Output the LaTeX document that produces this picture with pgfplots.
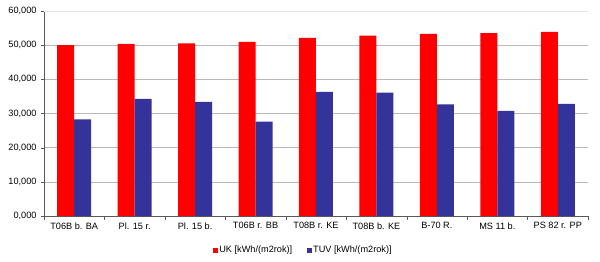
\documentclass[border=0pt]{standalone}
\usepackage{fontspec}
\setmainfont{Liberation Sans}
\usepackage{pgfplots}
\pgfplotsset{compat=1.18}
\definecolor{ukred}{RGB}{255,0,0}
\definecolor{tuvblue}{RGB}{51,51,153}
\begin{document}
\begin{tikzpicture}
\useasboundingbox (-44bp,-46bp) rectangle (556bp,216bp);
\begin{axis}[
  at={(0,0)}, anchor=south west,
  scale only axis,
  width=544bp, height=205bp,
  xmin=-0.5, xmax=8.5,
  ymin=0, ymax=60,
  axis lines=left,
  axis line style={gray!70!black, -},
  ybar, bar width=17bp,
  xtick={0,...,8},
  xticklabels={T06B b. BA, Pl. 15 r., Pl. 15 b., T06B r. BB, T08B r. KE, T08B b. KE, B-70 R., MS 11 b., PS 82 r. PP},
  major x tick style={draw=none},
  minor xtick={-0.5,0.5,...,8.5},
  minor x tick style={gray!70!black},
  minor tick length=4bp,
  tick align=outside,
  ytick={0,10,20,30,40,50},
  extra y ticks={60},
  extra y tick style={grid style={gray!20}},
  major tick length=3bp,
  ymajorgrids,
  grid style={gray!55},
  y tick style={gray!70!black},
  y tick label style={/pgf/number format/fixed, /pgf/number format/fixed zerofill, /pgf/number format/precision=3, /pgf/number format/use comma, /pgf/number format/1000 sep={}, xshift=-1bp},
  /pgf/number format/assume math mode=true,
  tick label style={font=\fontsize{9.2}{11}\selectfont, black},
  legend style={at={(0.5,0)}, anchor=north, xshift=-13bp, yshift=-28bp, draw=none, legend columns=2,
    font=\fontsize{9.2}{11}\selectfont, inner sep=0pt,
    /tikz/every even column/.style={column sep=14bp}},
  legend image code/.code={\fill[#1] (0bp,-2.8bp) rectangle (5bp,2.2bp);},
  legend cell align=left,
  legend style={/tikz/nodes={inner xsep=1bp}},
]
\addplot[fill=ukred, draw=none, bar shift=-8.5bp] coordinates {
 (0,50.0) (1,50.4) (2,50.5) (3,51.0) (4,52.1) (5,52.8) (6,53.3) (7,53.5) (8,53.9)};
\addplot[fill=tuvblue, draw=none, bar shift=8.5bp] coordinates {
 (0,28.3) (1,34.3) (2,33.4) (3,27.6) (4,36.3) (5,36.1) (6,32.7) (7,30.8) (8,32.8)};
\legend{UK [kWh/(m2rok)], TUV [kWh/(m2rok)]}
\end{axis}
\end{tikzpicture}
\end{document}
